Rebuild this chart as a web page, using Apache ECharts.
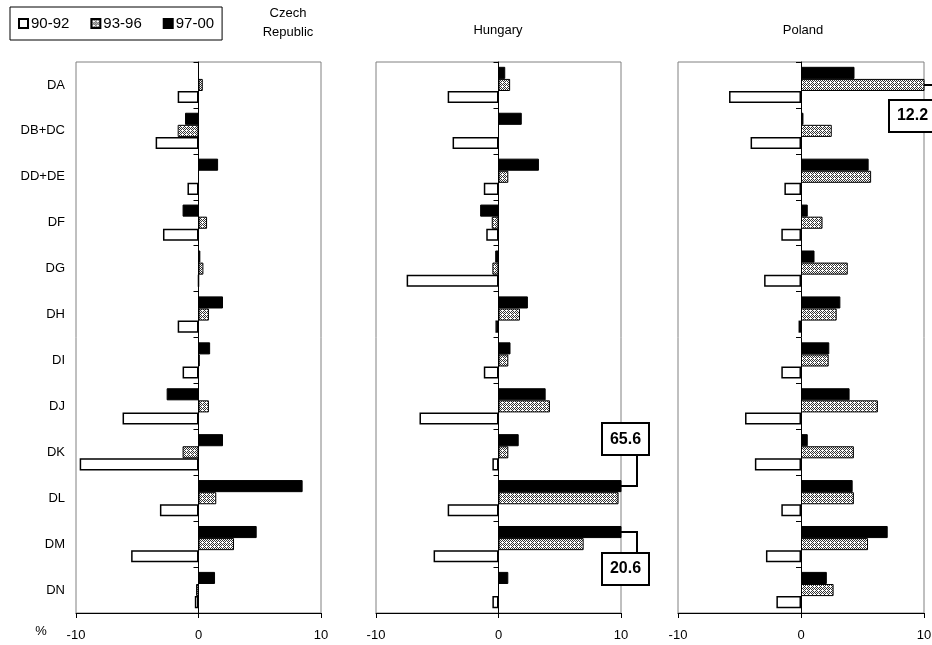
<!DOCTYPE html>
<html><head><meta charset="utf-8">
<script src="https://cdn.jsdelivr.net/npm/echarts@6/dist/echarts.min.js"></script>
<style>html,body{margin:0;padding:0;background:#fff}#c{width:932px;height:645px}</style>
</head><body><div id="c"></div>
<script>
const categories = ['DA','DB+DC','DD+DE','DF','DG','DH','DI','DJ','DK','DL','DM','DN'];
const periods = ['90-92','93-96','97-00'];
const panelTitles = ['Czech\nRepublic','Hungary','Poland'];
const xTicks = [-10, 0, 10];

const czech_90_92 = [-1.7, -3.5, -0.9, -2.9, 0, -1.7, -1.3, -6.2, -9.7, -3.15, -5.5, -0.3];
const czech_93_96 = [0.35, -1.7, 0, 0.7, 0.4, 0.85, 0.1, 0.85, -1.3, 1.45, 2.9, -0.2];
const czech_97_00 = [0, -1.1, 1.6, -1.3, 0.15, 2.0, 0.95, -2.6, 2.0, 8.5, 4.75, 1.35];

const hungary_90_92 = [-4.15, -3.75, -1.2, -1.0, -7.5, -0.25, -1.2, -6.45, -0.5, -4.15, -5.3, -0.5];
const hungary_93_96 = [0.95, 0, 0.8, -0.55, -0.5, 1.75, 0.8, 4.2, 0.8, 9.8, 6.95, 0];
const hungary_97_00 = [0.55, 1.9, 3.3, -1.5, -0.27, 2.4, 0.98, 3.85, 1.65, 65.6, 20.6, 0.8];

const poland_90_92 = [-5.85, -4.1, -1.35, -1.6, -3.0, -0.2, -1.6, -4.55, -3.75, -1.6, -2.85, -2.0];
const poland_93_96 = [12.2, 2.5, 5.7, 1.75, 3.8, 2.9, 2.25, 6.25, 4.3, 4.3, 5.45, 2.65];
const poland_97_00 = [4.35, 0.2, 5.5, 0.55, 1.1, 3.2, 2.3, 3.95, 0.55, 4.2, 7.05, 2.1];

const panelData = [
  [czech_90_92, czech_93_96, czech_97_00],
  [hungary_90_92, hungary_93_96, hungary_97_00],
  [poland_90_92, poland_93_96, poland_97_00]
];

// off-scale bars that get a value callout
const callouts = [
  {panel: 1, period: 2, cat: 'DL', dir: 'up'},
  {panel: 1, period: 2, cat: 'DM', dir: 'down'},
  {panel: 2, period: 1, cat: 'DA', dir: 'side'}
];

const FONT = '"Liberation Sans", Arial, sans-serif';

function makePattern() {
  const cv = document.createElement('canvas');
  cv.width = 4; cv.height = 4;
  const c = cv.getContext('2d');
  c.fillStyle = '#fff'; c.fillRect(0, 0, 4, 4);
  c.fillStyle = '#333';
  [[0,0],[2,0],[1,1],[3,1],[0,2],[2,2],[3,3],[1,3]].forEach(p => c.fillRect(p[0], p[1], 1, 1));
  c.fillStyle = '#fff';
  c.fillRect(2, 2, 1, 1);
  return cv;
}
const pattern = {image: makePattern(), repeat: 'repeat'};

const styles = [
  {color: '#fff', borderColor: '#000', borderWidth: 1.5},
  {color: pattern, borderColor: '#000', borderWidth: 1},
  {color: '#000', borderColor: '#000', borderWidth: 1}
];

const gridLefts = [76, 376, 678];
const gridWidths = [245, 245, 246];

const grids = [], xAxes = [], yAxes = [], series = [];
for (let i = 0; i < 3; i++) {
  grids.push({left: gridLefts[i], top: 62, width: gridWidths[i], height: 551,
    show: true, borderColor: '#808080', borderWidth: 1, backgroundColor: 'transparent',
    containLabel: false, outerBoundsMode: 'none'});
  xAxes.push({gridIndex: i, type: 'value', min: xTicks[0], max: xTicks[xTicks.length - 1], interval: 10,
    position: 'bottom', z: 5,
    axisLine: {show: true, onZero: false, lineStyle: {color: '#000', width: 1}},
    axisTick: {show: true, length: 5, lineStyle: {color: '#000'}},
    splitLine: {show: false},
    axisLabel: {color: '#000', fontSize: 13, fontFamily: FONT, margin: 16}});
  yAxes.push({gridIndex: i, type: 'category', data: categories, inverse: true, position: 'left',
    axisLine: {show: false, onZero: false}, axisTick: {show: false}, splitLine: {show: false},
    axisLabel: {show: i === 0, color: '#000', fontSize: 13, fontFamily: FONT, margin: 11}});
  yAxes.push({gridIndex: i, type: 'category', data: categories, inverse: true, position: 'right', z: 5,
    axisLine: {show: true, onZero: true, lineStyle: {color: '#000', width: 1}},
    axisTick: {show: true, inside: true, length: 5, lineStyle: {color: '#000'}},
    axisLabel: {show: false}, splitLine: {show: false}});
  [2, 1, 0].forEach(p => {
    series.push({type: 'bar', name: periods[p], xAxisIndex: i, yAxisIndex: 2 * i,
      data: panelData[i][p], barGap: '0%', barCategoryGap: '21%',
      itemStyle: styles[p], silent: true, clip: true});
  });
}

const chart = echarts.init(document.getElementById('c'), null, {renderer: 'canvas'});
chart.setOption({
  animation: false,
  backgroundColor: '#fff',
  textStyle: {fontFamily: FONT},
  legend: {data: periods, left: 10, top: 7, orient: 'horizontal', icon: 'rect',
    borderColor: '#000', borderWidth: 1, padding: [9, 8, 9, 8],
    itemWidth: 9, itemHeight: 9, itemGap: 21, selectedMode: false,
    textStyle: {color: '#000', fontSize: 15, fontFamily: FONT, padding: [0, 0, 0, -2]}},
  grid: grids, xAxis: xAxes, yAxis: yAxes, series: series
});

function buildGraphics() {
  const els = [];
  const titleX = [288, 498, 803];
  const titleY = [23, 30, 30];
  panelTitles.forEach((t, i) => {
    els.push({type: 'text', x: titleX[i], y: titleY[i], style: {text: t, fill: '#000',
      font: '13px ' + FONT, textAlign: 'center', textVerticalAlign: 'middle', lineHeight: 19}});
  });
  els.push({type: 'text', x: 41, y: 631, style: {text: '%', fill: '#000', font: '13px ' + FONT,
    textAlign: 'center', textVerticalAlign: 'middle'}});
  const model = chart.getModel();
  callouts.forEach(c => {
    const sIdx = c.panel * 3 + (2 - c.period);
    const dIdx = categories.indexOf(c.cat);
    const lay = model.getSeriesByIndex(sIdx).getData().getItemLayout(dIdx);
    const yc = lay.y + lay.height / 2;
    const xEnd = chart.convertToPixel({xAxisIndex: c.panel}, xTicks[xTicks.length - 1]);
    const txt = String(panelData[c.panel][c.period][dIdx]);
    const bw = 47, bh = 32;
    let bx, by, pts;
    if (c.dir === 'up') {
      bx = xEnd + 4.5 - bw / 2; by = yc - 31 - bh;
      pts = [[xEnd, yc], [xEnd + 16, yc], [xEnd + 16, by + bh]];
    } else if (c.dir === 'down') {
      bx = xEnd + 4.5 - bw / 2; by = yc + 21;
      pts = [[xEnd, yc], [xEnd + 16, yc], [xEnd + 16, by]];
    } else {
      bx = xEnd - 35; by = yc + 15;
      pts = [[xEnd, yc], [xEnd + 14, yc], [xEnd + 14, by]];
    }
    els.push({type: 'polyline', shape: {points: pts}, style: {stroke: '#000', lineWidth: 2, fill: null}, z: 10});
    els.push({type: 'rect', shape: {x: bx, y: by, width: bw, height: bh},
      style: {fill: '#fff', stroke: '#000', lineWidth: 2}, z: 11});
    els.push({type: 'text', x: bx + bw / 2, y: by + bh / 2, z: 12,
      style: {text: txt, fill: '#000', font: 'bold 16px ' + FONT, textAlign: 'center', textVerticalAlign: 'middle'}});
  });
  chart.setOption({graphic: {elements: els}});
}
buildGraphics();
</script></body></html>
